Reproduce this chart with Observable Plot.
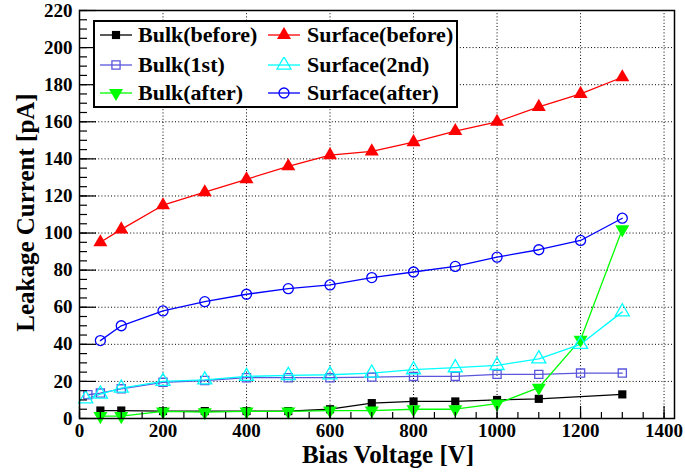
<!DOCTYPE html>
<html><head><meta charset="utf-8">
<script src="https://cdn.jsdelivr.net/npm/d3@7"></script>
<script src="https://cdn.jsdelivr.net/npm/@observablehq/plot@0.6"></script>
<style>
body{margin:0;background:#fff;}
#wrap{position:relative;width:685px;height:473px;overflow:hidden;}
#wrap svg text{font-family:"Liberation Serif","Times New Roman",serif !important;font-weight:bold;}
#legend{position:absolute;left:93px;top:20px;width:365px;height:88px;box-sizing:border-box;border:2px solid #000;background:#fff;}
.item{position:absolute;display:flex;align-items:center;height:28px;font:bold 22px "Liberation Serif","Times New Roman",serif;color:#000;white-space:nowrap;}
</style></head><body><div id="wrap"></div>
<script>
// ---- data ----
const seriesNames = ["Bulk(before)","Bulk(1st)","Bulk(after)","Surface(before)","Surface(2nd)","Surface(after)"];
const seriesColors = ["#000000","#5a56dc","#00ff00","#ff0000","#00ffff","#0000ff"];
const seriesSymbols = ["square","square","triangle","triangle","triangle","circle"];
const seriesFilled = [true,false,true,true,false,false];
const seriesRotate = [0,0,180,0,0,0];

const bulkBeforeX = [50,100,200,300,400,500,600,700,800,900,1000,1100,1300];
const bulkBeforeY = [4.3,4.3,4,4,4,4,5,8.3,9.2,9.2,10,10.6,13];
const bulk1stX = [20,50,100,200,300,400,500,600,700,800,900,1000,1100,1200,1300];
const bulk1stY = [12.8,13.7,16,19.5,20.5,22,22,22,22.3,22.7,22.7,23.8,23.8,24.5,24.5];
const bulkAfterX = [50,100,200,300,400,500,600,700,800,900,1000,1100,1200,1300];
const bulkAfterY = [1.3,1.3,3.8,3.4,3.8,3.8,4.3,4.3,5,5,8,16.6,42.5,102];
const surfBeforeX = [50,100,200,300,400,500,600,700,800,900,1000,1100,1200,1300];
const surfBeforeY = [95,102,115,122,129,136,142,144,149,155,160,168,175,184];
const surf2ndX = [15,50,100,200,300,400,500,600,700,800,900,1000,1100,1200,1300];
const surf2ndY = [10.6,13.2,16.4,20,20.8,22.7,23.2,23.6,24.5,26.3,27.4,28.6,32.2,40,57.5];
const surfAfterX = [50,100,200,300,400,500,600,700,800,900,1000,1100,1200,1300];
const surfAfterY = [42,50,58,63,67,70,72,76,79,82,87,91,96,108];

const xMajorTicks = [0,200,400,600,800,1000,1200,1400];
const yMajorTicks = [0,20,40,60,80,100,120,140,160,180,200,220];
const xMinorTicks = d3.range(0,1401,50);
const yMinorTicks = d3.range(0,221,5);
const xTitle = "Bias Voltage [V]";
const yTitle = "Leakage Current [pA]";

const seriesX = [bulkBeforeX,bulk1stX,bulkAfterX,surfBeforeX,surf2ndX,surfAfterX];
const seriesY = [bulkBeforeY,bulk1stY,bulkAfterY,surfBeforeY,surf2ndY,surfAfterY];

// ---- build ----
const font = "Liberation Serif, Times New Roman, serif";
const marks = [
  Plot.ruleX(xMajorTicks.filter(v => v > 0), {stroke:"#000", strokeWidth:1, strokeDasharray:"1,2.2"}),
  Plot.ruleY(yMajorTicks.filter(v => v > 0 && v < 220), {stroke:"#000", strokeWidth:1, strokeDasharray:"1,2.2"})
];
seriesNames.forEach((name, i) => {
  const data = seriesX[i].map((x, j) => ({name, x, y: seriesY[i][j]}));
  marks.push(Plot.line(data, {x:"x", y:"y", stroke: seriesColors[i], strokeWidth:1.3}));
});
seriesNames.forEach((name, i) => {
  const data = seriesX[i].map((x, j) => ({name, x, y: seriesY[i][j]}));
  const sym = seriesSymbols[i];
  const r = sym === "circle" ? 5 : (sym === "square" ? 4.6 : 5.2);
  marks.push(Plot.dot(data, {
    x:"x", y:"y", symbol: sym, r, rotate: seriesRotate[i],
    fill: seriesFilled[i] ? seriesColors[i] : "none",
    stroke: seriesColors[i], strokeWidth: seriesFilled[i] ? 0 : 1.3
  }));
});
marks.push(
  Plot.axisX(xMinorTicks, {tickSize:6, dy:-6, tickFormat: () => "", strokeWidth:1.2}),
  Plot.axisX(xMajorTicks, {tickSize:12, dy:-12, tickFormat: () => "", strokeWidth:1.2}),
  Plot.axisY(yMinorTicks, {tickSize:8, dx:8, tickFormat: () => "", strokeWidth:1.2}),
  Plot.axisY(yMajorTicks, {tickSize:17, dx:17, tickFormat: () => "", strokeWidth:1.2}),
  Plot.text(xMajorTicks, {x: d => d, text: d => String(d), frameAnchor:"bottom", lineAnchor:"top", dy:5, fontSize:19, fontFamily:font, fontWeight:"bold", fill:"#000"}),
  Plot.text(yMajorTicks, {y: d => d, text: d => String(d), frameAnchor:"left", textAnchor:"end", dx:-7, fontSize:19, fontFamily:font, fontWeight:"bold", fill:"#000"}),
  Plot.frame({stroke:"#000", strokeWidth:1.5}),
  Plot.text([xTitle], {frameAnchor:"bottom", textAnchor:"middle", dy:44, dx:11, fontSize:25, fontFamily:font, fontWeight:"bold", fill:"#000"}),
  Plot.text([yTitle], {frameAnchor:"left", textAnchor:"middle", rotate:-90, dx:-54, dy:-2, fontSize:25, fontFamily:font, fontWeight:"bold", fill:"#000"})
);

const chart = Plot.plot({
  width: 685, height: 473,
  marginLeft: 79, marginRight: 11, marginTop: 10, marginBottom: 55,
  x: {domain:[0,1425], label:null, axis:null},
  y: {domain:[0,220], label:null, axis:null},
  style: {fontFamily: font, fontWeight:"bold", fontSize:"19px", background:"#fff", color:"#000"},
  marks
});
const wrap = document.getElementById("wrap");
wrap.appendChild(chart);

// ---- legend ----
const box = document.createElement("div");
box.id = "legend";
wrap.appendChild(box);
const colX = [[100,138],[268,307]];
const rowY = [35,65,93];
seriesNames.forEach((name, i) => {
  const col = i < 3 ? 0 : 1, row = i % 3;
  const item = document.createElement("div");
  item.className = "item";
  item.style.left = colX[col][0] + "px";
  item.style.top = (rowY[row] - 14) + "px";
  const sym = seriesSymbols[i];
  const type = sym === "circle" ? d3.symbolCircle : (sym === "square" ? d3.symbolSquare : d3.symbolTriangle);
  const r = sym === "circle" ? 5 : (sym === "square" ? 4.6 : 5.2);
  const path = d3.symbol(type, Math.PI * r * r)();
  const fill = seriesFilled[i] ? seriesColors[i] : "none";
  const sw = seriesFilled[i] ? 0 : 1.3;
  item.innerHTML = `<svg width="32" height="16" viewBox="0 0 32 16"><line x1="0" x2="32" y1="8" y2="8" stroke="${seriesColors[i]}" stroke-width="1.3"/><path d="${path}" transform="translate(16,8) rotate(${seriesRotate[i]})" fill="${fill}" stroke="${seriesColors[i]}" stroke-width="${sw}"/></svg><span>${name}</span>`;
  item.querySelector("svg").style.marginRight = (colX[col][1] - colX[col][0] - 32) + "px";
  wrap.appendChild(item);
});
</script>
</body></html>
